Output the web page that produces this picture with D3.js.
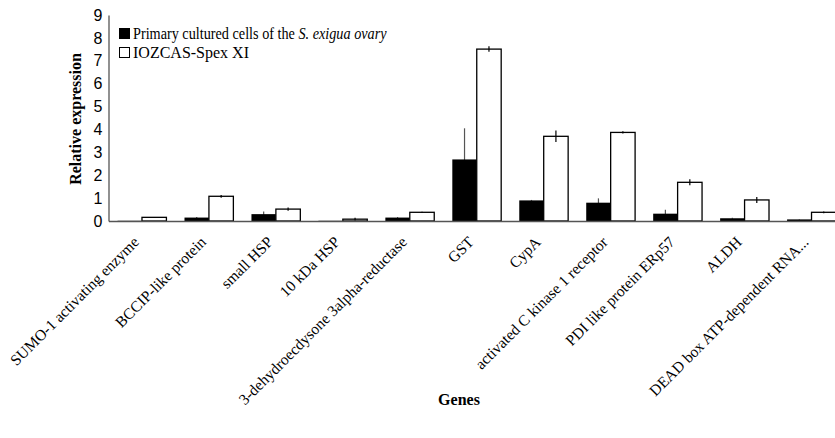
<!DOCTYPE html>
<html>
<head>
<meta charset="utf-8">
<script src="https://cdn.jsdelivr.net/npm/d3@7"></script>
<style>
  body { margin: 0; background: #fff; }
  svg { display: block; }
  .serif { font-family: "Liberation Serif", "Times New Roman", serif; }
  .sans { font-family: "Liberation Sans", Arial, sans-serif; }
</style>
</head>
<body>
<div id="chart"></div>
<script>
const genes = [
  "SUMO-1 activating enzyme", "BCCIP-like protein", "small HSP", "10 kDa HSP",
  "3-dehydroecdysone 3alpha-reductase", "GST", "CypA", "activated C kinase 1 receptor",
  "PDI like protein ERp57", "ALDH", "DEAD box ATP-dependent RNA..."
];
const primary = [0.01, 0.15, 0.30, 0.01, 0.15, 2.69, 0.90, 0.80, 0.32, 0.12, 0.07];
const primaryErr = [0, 0.02, 0.12, 0, 0.02, 1.36, 0.02, 0.19, 0.17, 0.02, 0.01];
const spex = [0.16, 1.08, 0.52, 0.08, 0.38, 7.51, 3.70, 3.87, 1.69, 0.92, 0.38];
const spexErr = [0.02, 0.06, 0.07, 0.06, 0.02, 0.12, 0.25, 0.05, 0.13, 0.13, 0.04];
const yTicks = [0, 1, 2, 3, 4, 5, 6, 7, 8, 9];

const width = 835, height = 438;
const margin = { top: 15, right: -10, bottom: 217, left: 108.5 };

const svg = d3.select("#chart")
  .append("svg")
  .attr("width", width)
  .attr("height", height);

const x = d3.scaleBand()
  .domain(genes)
  .range([margin.left, width - margin.right])
  .paddingInner(0.27)
  .paddingOuter(0.135);

const xs = d3.scaleBand()
  .domain(["primary", "spex"])
  .range([0, x.bandwidth()]);

const y = d3.scaleLinear()
  .domain([0, 9])
  .range([height - margin.bottom, margin.top]);

const rows = genes.map((g, i) => ({
  gene: g,
  vals: [
    { key: "primary", v: primary[i], e: primaryErr[i] },
    { key: "spex", v: spex[i], e: spexErr[i] }
  ]
}));

const groups = svg.selectAll("g.gene")
  .data(rows)
  .enter()
  .append("g")
  .attr("class", "gene")
  .attr("transform", d => `translate(${x(d.gene)},0)`);

function errLines(sel, key) {
  sel.selectAll("line.err-" + key)
    .data(d => d.vals.filter(v => v.key === key && v.e > 0))
    .enter()
    .append("line")
    .attr("class", "err-" + key)
    .attr("x1", d => xs(d.key) + xs.bandwidth() / 2)
    .attr("x2", d => xs(d.key) + xs.bandwidth() / 2)
    .attr("y1", d => y(d.v + d.e))
    .attr("y2", d => y(Math.max(0, d.v - d.e)))
    .attr("stroke", key === "primary" ? "#555" : "#000")
    .attr("stroke-width", 1.2);
}

// primary error bars sit behind the black bars
errLines(groups, "primary");

groups.selectAll("rect")
  .data(d => d.vals)
  .enter()
  .append("rect")
  .attr("x", d => xs(d.key))
  .attr("y", d => y(d.v))
  .attr("width", xs.bandwidth())
  .attr("height", d => y(0) - y(d.v))
  .attr("fill", d => d.key === "primary" ? "#000" : "#fff")
  .attr("stroke", "#000")
  .attr("stroke-width", d => d.key === "primary" ? 0 : 1.3);

errLines(groups, "spex");

// axes
const yAxis = svg.append("g")
  .attr("transform", `translate(${margin.left},0)`)
  .call(d3.axisLeft(y).tickValues(yTicks).tickSize(0).tickPadding(6));
yAxis.attr("font-family", null);
yAxis.select(".domain").attr("stroke", "#555").attr("stroke-width", 1.3);
yAxis.selectAll("text")
  .attr("class", "sans")
  .style("font-size", "16px")
  .attr("fill", "#000");

const xAxis = svg.append("g")
  .attr("transform", `translate(0,${y(0)})`)
  .call(d3.axisBottom(x).tickSize(0).tickFormat(""));
xAxis.select(".domain").attr("stroke", "#555").attr("stroke-width", 1.3);

// rotated category labels
svg.append("g")
  .selectAll("text")
  .data(genes)
  .enter()
  .append("text")
  .attr("class", "serif")
  .attr("transform", d => `translate(${x(d) + x.bandwidth() / 2 - 2},243) rotate(-45)`)
  .attr("text-anchor", "end")
  .style("font-size", "15.5px")
  .text(d => d);

svg.append("text")
  .attr("class", "serif")
  .attr("transform", "rotate(-90)")
  .attr("x", -119)
  .attr("y", 81)
  .attr("text-anchor", "middle")
  .style("font-weight", "bold")
  .style("font-size", "16px")
  .text("Relative expression");

svg.append("text")
  .attr("class", "serif")
  .attr("x", 459)
  .attr("y", 405)
  .attr("text-anchor", "middle")
  .style("font-weight", "bold")
  .style("font-size", "16px")
  .text("Genes");

// Legend
const legend = svg.append("g")
  .attr("transform", "translate(119,28)");

const legendData = [
  { color: "#000", sx: 0.89, parts: [["Primary cultured cells of the ", "normal"], ["S. exigua ovary", "italic"]] },
  { color: "#fff", sx: 1, parts: [["IOZCAS-Spex XI", "normal"]] }
];

legend.selectAll("g")
  .data(legendData)
  .enter()
  .append("g")
  .attr("transform", (d, i) => `translate(0,${i * 19})`)
  .each(function(d) {
    d3.select(this)
      .append("rect")
      .attr("x", 0.5)
      .attr("y", 0.5)
      .attr("width", 10)
      .attr("height", 10)
      .attr("fill", d.color)
      .attr("stroke", "#000")
      .attr("stroke-width", 1);

    const t = d3.select(this)
      .append("text")
      .attr("class", "serif")
      .attr("transform", `translate(14,10.5) scale(${d.sx},1)`)
      .style("font-size", "16px");
    d.parts.forEach(p => {
      t.append("tspan").style("font-style", p[1]).text(p[0]);
    });
  });
</script>
</body>
</html>
